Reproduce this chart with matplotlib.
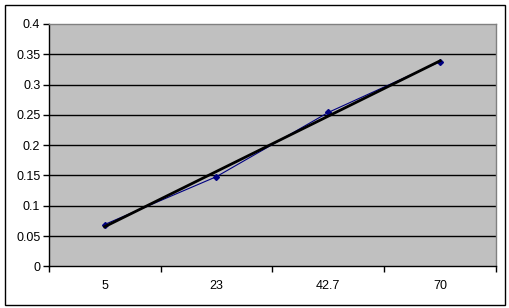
import numpy as np
import matplotlib
matplotlib.use("Agg")
from matplotlib import pyplot as plt
from matplotlib.patches import Rectangle

# data
categories = ["5", "23", "42.7", "70"]
values = [0.069, 0.148, 0.254, 0.338]
y_ticks = [0, 0.05, 0.1, 0.15, 0.2, 0.25, 0.3, 0.35, 0.4]
y_labels = ["0", "0.05", "0.1", "0.15", "0.2", "0.25", "0.3", "0.35", "0.4"]

plt.rcParams['font.family'] = ['Liberation Sans', 'DejaVu Sans']

W, H = 510, 308
fig = plt.figure(figsize=(W / 100, H / 100), dpi=100)
fig.patch.set_facecolor("white")

# plot area in pixel coords (left, top, right, bottom)
l, t, r, b = 48.7, 24, 496, 266.3
ax = fig.add_axes([l / W, 1 - b / H, (r - l) / W, (b - t) / H])
ax.set_facecolor("#c0c0c0")

x = np.arange(1, len(values) + 1)
ax.set_xlim(0.5, len(values) + 0.5)
ax.set_ylim(0, 0.4)

# horizontal gridlines
for v in y_ticks[1:-1]:
    ax.axhline(v, color="black", lw=1.0, zorder=1)

# data series
ax.plot(x, values, color="#000080", lw=0.8, marker="D", ms=3,
        mec="#000080", mfc="#000080", zorder=3)

# linear trend line
k, c = np.polyfit(x, values, 1)
ax.plot(x, k * x + c, color="black", lw=2.0, zorder=4)

# axes
ax.set_yticks(y_ticks)
ax.set_yticklabels(y_labels)
ax.set_xticks(x)
ax.set_xticklabels(categories)
ax.set_xticks(np.arange(0.5, len(values) + 1, 1), minor=True)
ax.tick_params(axis="x", which="major", length=0, pad=10, labelsize=9)
ax.tick_params(axis="x", which="minor", length=4, width=1, color="black", direction="out")
ax.tick_params(axis="y", length=4, width=1, direction="out", pad=2, labelsize=9)

for s in ["top", "right"]:
    ax.spines[s].set_color("#808080")
    ax.spines[s].set_linewidth(1.0)
for s in ["left", "bottom"]:
    ax.spines[s].set_color("black")
    ax.spines[s].set_linewidth(1.0)

# chart area border
fig.add_artist(Rectangle((5 / W, 1 - 304.5 / H), 500 / W, 299.5 / H,
                         transform=fig.transFigure, fill=False,
                         ec="black", lw=1.0))

fig.savefig("out.png", dpi=100)
